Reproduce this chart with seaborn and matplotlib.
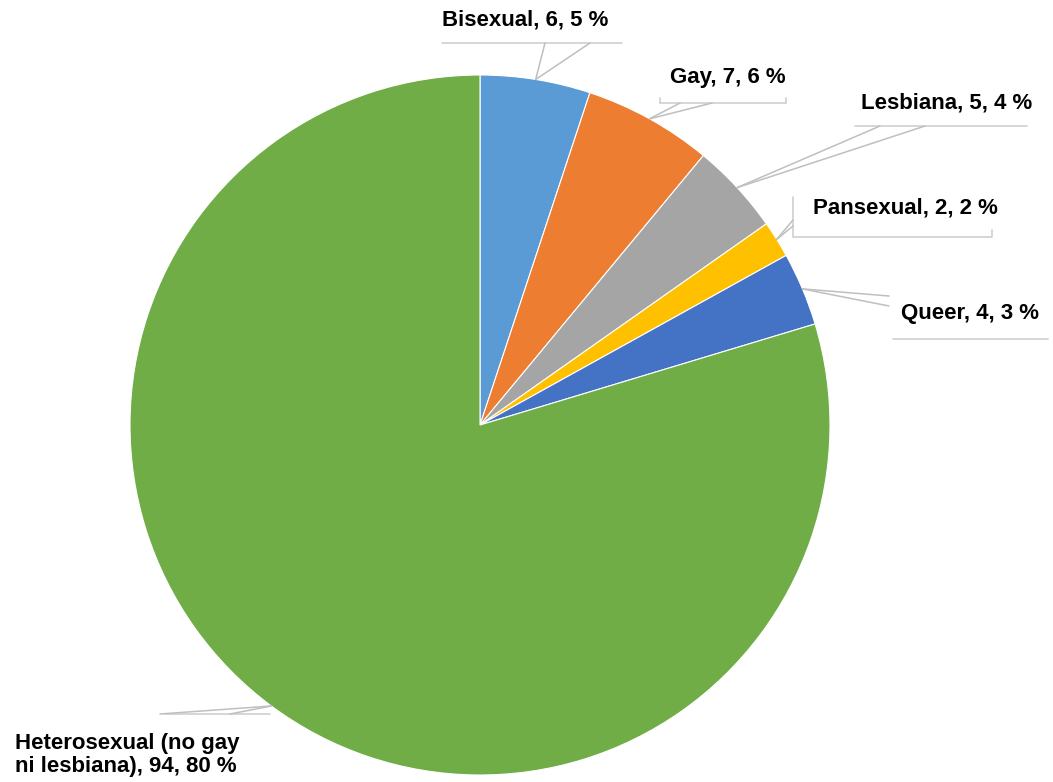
import numpy as np
import matplotlib
matplotlib.use("Agg")
import matplotlib.pyplot as plt
import seaborn as sns

# Orientación sexual: conteos por categoría
categorias = ["Bisexual", "Gay", "Lesbiana", "Pansexual", "Queer",
              "Heterosexual (no gay\nni lesbiana)"]
conteos = [6, 7, 5, 2, 4, 94]
colores = ["#5B9BD5", "#ED7D31", "#A5A5A5", "#FFC000", "#4472C4", "#70AD47"]

sns.set_theme(style="white")
plt.rcParams["font.family"] = ["Liberation Sans", "DejaVu Sans"]

W, H = 1053, 782
fig = plt.figure(figsize=(W / 100, H / 100), dpi=100)
ax = fig.add_axes([0, 0, 1, 1])

cx, cy, r = 480, H - 425, 350
wedges, _ = ax.pie(conteos, colors=sns.color_palette(colores), startangle=90,
                   counterclock=False, center=(cx, cy), radius=r,
                   wedgeprops=dict(edgecolor="white", linewidth=0.8))
ax.set_xlim(0, W)
ax.set_ylim(0, H)
ax.set_aspect("equal")
ax.axis("off")

total = sum(conteos)
etiquetas = [f"{c}, {v}, {round(100 * v / total)} %" for c, v in zip(categorias, conteos)]

# Callout layout (image coordinates, y from top): text anchor, alignment,
# underline span, leader end points, optional anchor angle on the rim
layout = [
    dict(xy=(525, 20), ha="center", line=(442, 622, 43), ends=(545, 590)),
    dict(xy=(728, 78), ha="center", line=(660, 786, 103), ends=(680, 712), ticks=True),
    dict(xy=(947, 103), ha="center", line=(855, 1027, 126), ends=(880, 925)),
    dict(xy=(905, 208), ha="center", box=(793, 992, 197, 237, 230), ends=(793, 793),
         ends_y=(220, 226)),
    dict(xy=(970, 314), ha="center", line=(893, 1048, 339), ends=(889, 889),
         ends_y=(296, 306)),
    dict(xy=(15, 755), ha="left", line=(165, 270, 714), ends=(160, 230), angle=-126.6),
]

lc = "#BFBFBF"
for w, lab, L in zip(wedges, etiquetas, layout):
    ang = L.get("angle", (w.theta1 + w.theta2) / 2)
    px, py = cx + r * np.cos(np.radians(ang)), cy + r * np.sin(np.radians(ang))
    tx, ty = L["xy"]
    ax.text(tx, H - ty, lab, ha=L["ha"], va="center", fontsize=16,
            fontweight="bold", color="black", linespacing=1.15)
    if "line" in L:
        x0, x1, y = L["line"]
        ax.plot([x0, x1], [H - y, H - y], color="#D0D0D0", lw=1.2)
        if L.get("ticks"):
            ax.plot([x0, x0], [H - y, H - y + 5], color="#D0D0D0", lw=1.2)
            ax.plot([x1, x1], [H - y, H - y + 5], color="#D0D0D0", lw=1.2)
        ey = L.get("ends_y", (y, y))
    else:
        x0, x1, yt, yb, yr = L["box"]
        ax.plot([x0, x0, x1, x1], [H - yt, H - yb, H - yb, H - yr],
                color="#D0D0D0", lw=1.2)
        ey = L["ends_y"]
    for ex, eyy in zip(L["ends"], ey):
        ax.plot([px, ex], [py, H - eyy], color=lc, lw=1.1)

fig.savefig("out.png", dpi=100)
